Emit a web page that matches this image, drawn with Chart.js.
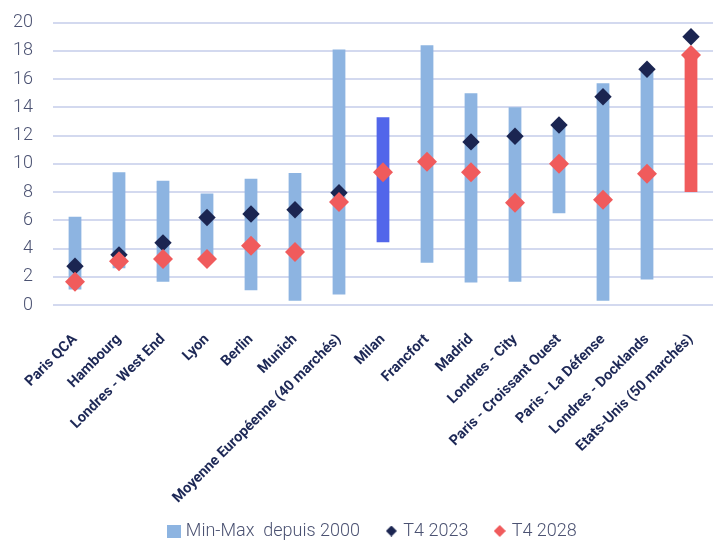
<!DOCTYPE html>
<html>
<head>
<meta charset="utf-8">
<script src="https://cdn.jsdelivr.net/npm/chart.js@4"></script>
<style>
  html, body { margin: 0; padding: 0; background: #ffffff; }
  #wrap { width: 723px; height: 540px; }
</style>
</head>
<body>
<div id="wrap"><canvas id="c" width="723" height="540"></canvas></div>
<script>
// Markets
const categories = [
  'Paris QCA', 'Hambourg', 'Londres - West End', 'Lyon', 'Berlin', 'Munich',
  'Moyenne Européenne (40 marchés)', 'Milan', 'Francfort', 'Madrid',
  'Londres - City', 'Paris - Croissant Ouest', 'Paris - La Défense',
  'Londres - Docklands', 'Etats-Unis (50 marchés)'
];
// Min-Max range since 2000
const rangeMin = [1.1, 2.6, 1.65, 3.4, 1.05, 0.3, 0.75, 4.45, 3.0, 1.6, 1.65, 6.5, 0.3, 1.8, 8.0];
const rangeMax = [6.25, 9.4, 8.8, 7.9, 8.95, 9.35, 18.1, 13.3, 18.4, 15.0, 14.0, 12.6, 15.7, 16.5, 17.6];
// Q4 2023 and Q4 2028 values
const t42023 = [2.75, 3.55, 4.4, 6.2, 6.45, 6.75, 7.95, null, null, 11.55, 11.95, 12.75, 14.75, 16.7, 19.0];
const t42028 = [1.65, 3.1, 3.25, 3.25, 4.2, 3.75, 7.3, 9.4, 10.15, 9.4, 7.25, 10.0, 7.45, 9.3, 17.7];
const yTicks = [0, 2, 4, 6, 8, 10, 12, 14, 16, 18, 20];

const BLUE = '#8db4e1', NAVY = '#1b2551', RED = '#f05b5c', MILAN = '#5266ea';
const barColors = categories.map(c =>
  c === 'Milan' ? MILAN : (c.startsWith('Etats-Unis') ? RED : BLUE));

const FONT = 'Roboto, "Liberation Sans", sans-serif';

// small legend markers
function marker(kind, color, w, h) {
  const cv = document.createElement('canvas');
  cv.width = w; cv.height = h;
  const ctx = cv.getContext('2d');
  ctx.fillStyle = color;
  if (kind === 'rect') {
    ctx.fillRect(0, 0, w, h);
  } else {
    ctx.beginPath();
    ctx.moveTo(w / 2, 0); ctx.lineTo(w, h / 2); ctx.lineTo(w / 2, h); ctx.lineTo(0, h / 2);
    ctx.closePath(); ctx.fill();
  }
  return cv;
}
const legendMarkers = [marker('rect', BLUE, 14, 13), marker('diamond', NAVY, 11, 11), marker('diamond', RED, 12, 12)];

new Chart(document.getElementById('c'), {
  data: {
    labels: categories,
    datasets: [
      {
        type: 'bar',
        label: 'Min-Max  depuis 2000',
        data: rangeMin.map((v, i) => [v, rangeMax[i]]),
        backgroundColor: barColors,
        borderWidth: 0,
        barPercentage: 0.29,
        categoryPercentage: 1.0,
        order: 3
      },
      {
        type: 'line',
        label: 'T4 2023',
        data: t42023,
        showLine: false,
        pointStyle: 'rectRot',
        pointRadius: 8.7,
        pointBackgroundColor: NAVY,
        pointBorderWidth: 0,
        backgroundColor: NAVY,
        borderColor: NAVY,
        order: 2
      },
      {
        type: 'line',
        label: 'T4 2028',
        data: t42028,
        showLine: false,
        pointStyle: 'rectRot',
        pointRadius: 10,
        pointBackgroundColor: RED,
        pointBorderWidth: 0,
        backgroundColor: RED,
        borderColor: RED,
        order: 1
      }
    ]
  },
  options: {
    responsive: false,
    animation: false,
    layout: { padding: { top: 22.6, right: 3, left: 0, bottom: -10 } },
    scales: {
      x: {
        grid: { display: false },
        border: { display: false },
        afterFit: (s) => { s.height = 207; },
        ticks: {
          minRotation: 45,
          maxRotation: 45,
          autoSkip: false,
          padding: 18,
          color: '#1d2856',
          font: { family: FONT, size: 14.5, weight: 'bold' }
        }
      },
      y: {
        min: 0,
        max: 20,
        afterBuildTicks: (s) => { s.ticks = yTicks.map(v => ({ value: v })); },
        afterFit: (s) => { s.width = 53; s.paddingTop = 0; s.paddingBottom = 0; },
        grid: { color: '#d3d9ef', lineWidth: 2, drawTicks: false },
        border: { display: false },
        ticks: {
          padding: 20,
          color: '#4b5272',
          font: { family: FONT, size: 18, weight: 300 }
        }
      }
    },
    plugins: {
      tooltip: { enabled: false },
      legend: {
        position: 'bottom',
        fullSize: false,
        labels: {
          usePointStyle: true,
          pointStyleWidth: 6,
          boxHeight: 13,
          padding: 10,
          color: '#4b5272',
          font: { family: FONT, size: 18, weight: 300 },
          sort: (a, b) => a.datasetIndex - b.datasetIndex,
          generateLabels: (chart) => {
            const items = Chart.defaults.plugins.legend.labels.generateLabels(chart);
            items.forEach(it => {
              it.lineWidth = 0;
              it.pointStyle = legendMarkers[it.datasetIndex];
              it.text = it.text + '\u2003';
            });
            return items;
          }
        }
      }
    }
  }
});
</script>
</body>
</html>
